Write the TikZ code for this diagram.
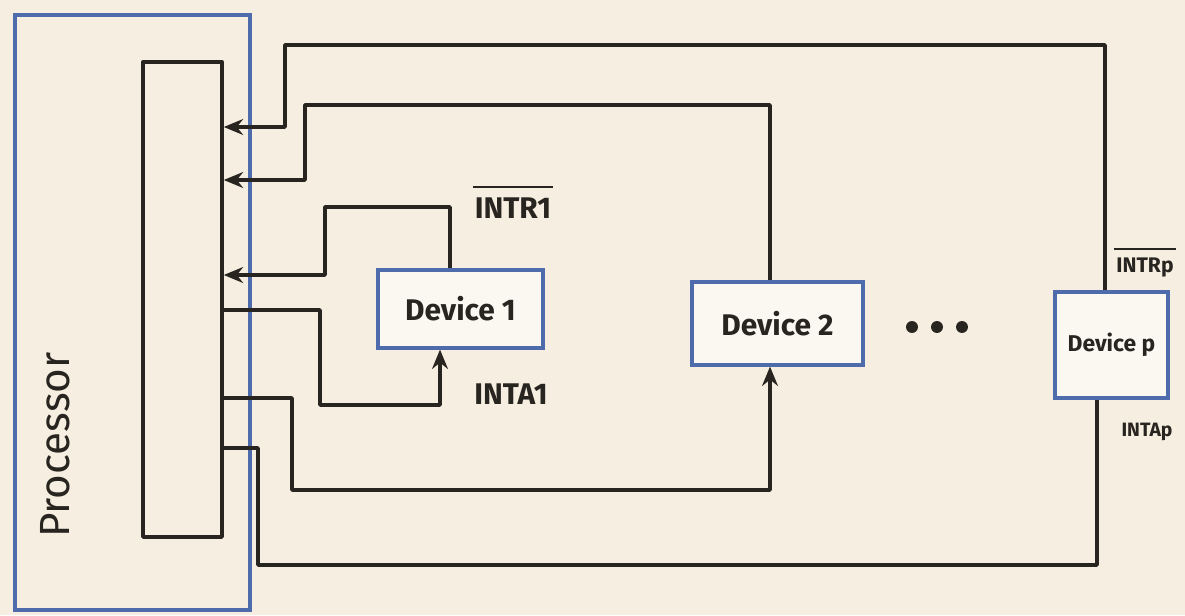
\documentclass[tikz,border=0pt]{standalone}
\usepackage{fontspec}
\setmainfont{Fira Sans}
\usetikzlibrary{arrows.meta}
\definecolor{paper}{RGB}{246,238,224}
\definecolor{pen}{RGB}{40,36,32}
\definecolor{bluepen}{RGB}{78,108,172}
\begin{document}
\begin{tikzpicture}[x=0.02cm,y=-0.02cm,
  wire/.style={draw=pen,line width=2pt,line join=round},
  arr/.style={wire,-{Stealth[length=11pt,width=9pt]}},
  devbox/.style={draw=bluepen,line width=1.8pt,fill=white!55!paper,inner sep=0pt,text=pen},
  lab/.style={text=pen,inner sep=1pt,font=\bfseries},
  bar/.style={draw=pen,line width=1.4pt}]
\fill[paper] (0,0) rectangle (1185,615);
\useasboundingbox (0,0) rectangle (1185,615);

% processor
\node[draw=bluepen,line width=1.8pt,minimum width=4.7cm,minimum height=11.9cm,inner sep=0pt] (proc) at (132.5,312.5) {};
\node[wire,minimum width=1.58cm,minimum height=9.5cm,inner sep=0pt] (bus) at (182.5,299.5) {};
\node[rotate=90,text=pen,font=\fontsize{24}{26}\selectfont] (plabel) at (55,445) {Processor};

% devices
\node[devbox,minimum width=3.3cm,minimum height=1.56cm,font=\bfseries\fontsize{17}{20}\selectfont] (dev1) at (460.5,309) {Device 1};
\node[devbox,minimum width=3.42cm,minimum height=1.66cm,font=\bfseries\fontsize{17}{20}\selectfont] (dev2) at (777.5,323.5) {Device 2};
\node[devbox,minimum width=2.26cm,minimum height=2.12cm,font=\bfseries\fontsize{13}{16}\selectfont] (devp) at (1111.5,345) {Device p};

% dots
\fill[pen] (912,327) circle (3.4pt) (937,327) circle (3.4pt) (962,327) circle (3.4pt);

% request lines (to processor)
\draw[arr] (devp.north -| 1105,0) -- (1105,45) -- (285,45) -- (285,127) -- (bus.east |- 0,127);
\draw[arr] (dev2.north -| 770,0) -- (770,105) -- (305,105) -- (305,180) -- (bus.east |- 0,180);
\draw[arr] (dev1.north -| 450,0) -- (450,207) -- (325,207) -- (325,275) -- (bus.east |- 0,275);

% acknowledge lines (to devices)
\draw[arr] (bus.east |- 0,310) -- (320,310) -- (320,405) -- (440,405) -- (dev1.south -| 440,0);
\draw[arr] (bus.east |- 0,398) -- (292,398) -- (292,490) -- (770,490) -- (dev2.south -| 770,0);
\draw[wire] (bus.east |- 0,448) -- (258,448) -- (258,565) -- (1097,565) -- (devp.south -| 1097,0);

% labels
\node[lab,font=\bfseries\fontsize{17}{19}\selectfont] (intr1) at (513,208) {INTR1};
\draw[bar] ([yshift=5pt]intr1.north west) -- ([yshift=5pt]intr1.north east);
\node[lab,font=\bfseries\fontsize{17}{19}\selectfont] (inta1) at (511,394) {INTA1};
\node[lab,font=\bfseries\fontsize{12}{14}\selectfont] (intrp) at (1145,268) {INTRp};
\draw[bar] ([yshift=4pt]intrp.north west) -- ([yshift=4pt]intrp.north east);
\node[lab,font=\bfseries\fontsize{11}{13}\selectfont] (intap) at (1147,432) {INTAp};
\end{tikzpicture}
\end{document}
